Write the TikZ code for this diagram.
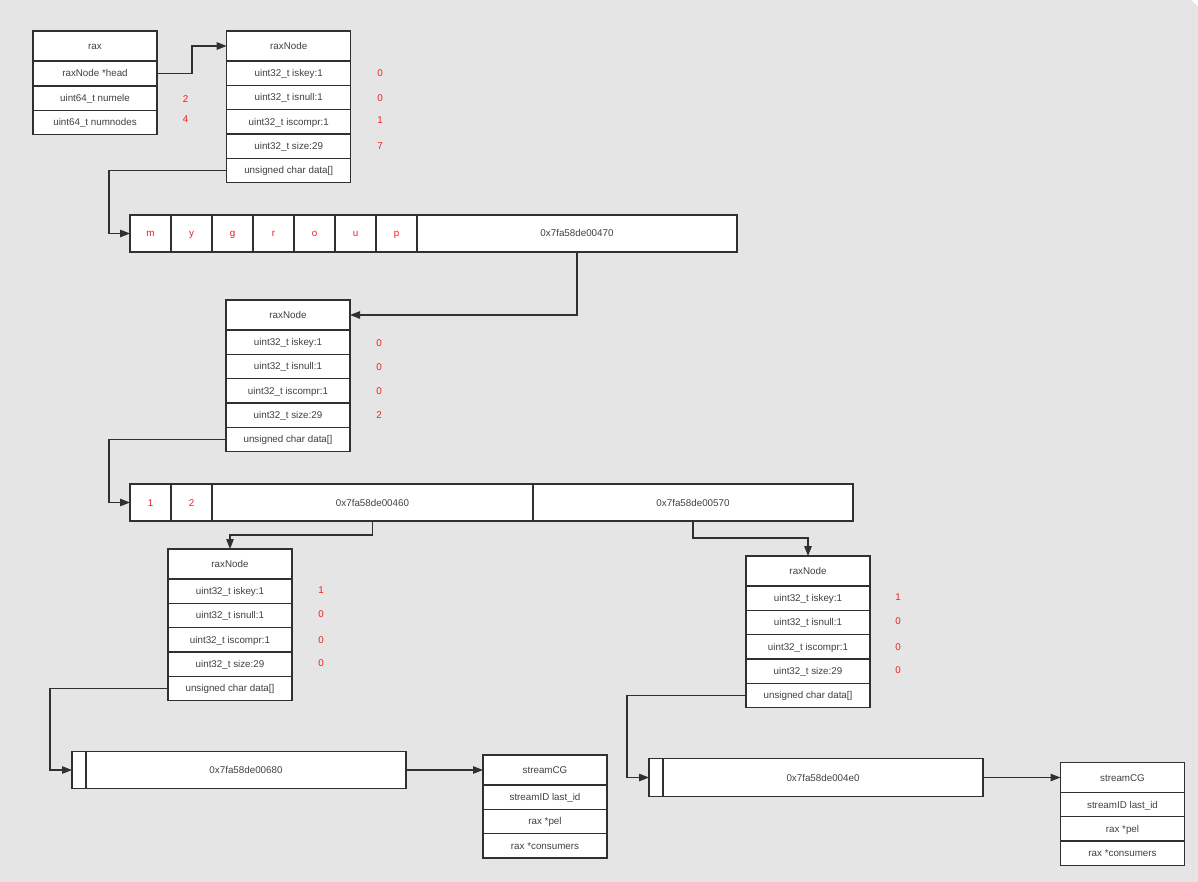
\documentclass[tikz,border=0pt]{standalone}
\usepackage{fontspec}
\setmainfont{Liberation Sans}
\usetikzlibrary{arrows.meta, positioning}
\definecolor{bggray}{HTML}{E5E5E5}
\definecolor{linegray}{HTML}{303030}
\definecolor{textgray}{HTML}{404040}
\definecolor{numred}{HTML}{F01E1E}

\begin{document}
\begin{tikzpicture}[
    x=1pt, y=-1pt,
    cell/.style={
        draw=linegray,
        fill=white,
        line width=1.3pt,
        inner sep=0pt,
        outer sep=0pt,
        minimum width=124pt,
        minimum height=24.3pt,   % ordinary field row
        text height=8pt,
        text depth=1pt,
        text=textgray,
        font=\fontsize{9.8}{11}\selectfont
    },
    headcell/.style={cell, minimum height=30pt},
    bytecell/.style={cell, minimum width=41pt, minimum height=37pt, text=numred},
    ptrcell/.style={cell, minimum width=320pt, minimum height=37pt},
    tagcell/.style={cell, minimum width=14pt, minimum height=37.5pt},
    val/.style={text=numred, font=\fontsize{9.8}{11}\selectfont},
    link/.style={draw=linegray, line width=1.3pt, -{Triangle[length=10pt,width=7.5pt]}}
]
    \useasboundingbox (0,0) rectangle (1198,882);
    \fill[white] (0,0) rectangle (1198,882);
    \fill[bggray] (0,0) -- (1191,0) -- (1198,7) -- (1198,882) -- (0,882) -- cycle;

    % rax
    \node[headcell] (rax) at (95,46) {rax};
    \node[cell, below=0pt of rax, minimum height=25pt] (raxhead) {raxNode *head};
    \node[cell, below=0pt of raxhead] (raxnumele) {uint64\_t numele};
    \node[cell, below=0pt of raxnumele] (raxnumnodes) {uint64\_t numnodes};
    \node[val] (v0a) at (185.5,99) {2};
    \node[val] (v0b) at (185.5,119) {4};

    % raxNode 1 (compressed "mygroup")
    \node[headcell] (n1) at (288.7,46) {raxNode};
    \node[cell, below=0pt of n1] (n1key) {uint32\_t iskey:1};
    \node[cell, below=0pt of n1key] (n1null) {uint32\_t isnull:1};
    \node[cell, below=0pt of n1null] (n1compr) {uint32\_t iscompr:1};
    \node[cell, below=0pt of n1compr] (n1size) {uint32\_t size:29};
    \node[cell, below=0pt of n1size] (n1data) {unsigned char data[]};
    \node[val] (v1a) at (380,73) {0};
    \node[val] (v1b) at (380,98) {0};
    \node[val] (v1c) at (380,120) {1};
    \node[val] (v1d) at (380,146) {7};

    % data of raxNode 1
    \node[bytecell] (c1) at (150.5,233.5) {m};
    \node[bytecell, right=0pt of c1] (c2) {y};
    \node[bytecell, right=0pt of c2] (c3) {g};
    \node[bytecell, right=0pt of c3] (c4) {r};
    \node[bytecell, right=0pt of c4] (c5) {o};
    \node[bytecell, right=0pt of c5] (c6) {u};
    \node[bytecell, right=0pt of c6] (c7) {p};
    \node[ptrcell, right=0pt of c7] (p470) {0x7fa58de00470};

    % raxNode 2
    \node[headcell] (n2) at (288,315) {raxNode};
    \node[cell, below=0pt of n2] (n2key) {uint32\_t iskey:1};
    \node[cell, below=0pt of n2key] (n2null) {uint32\_t isnull:1};
    \node[cell, below=0pt of n2null] (n2compr) {uint32\_t iscompr:1};
    \node[cell, below=0pt of n2compr] (n2size) {uint32\_t size:29};
    \node[cell, below=0pt of n2size] (n2data) {unsigned char data[]};
    \node[val] (v2a) at (379,343) {0};
    \node[val] (v2b) at (379,367) {0};
    \node[val] (v2c) at (379,391) {0};
    \node[val] (v2d) at (379,415) {2};

    % data of raxNode 2
    \node[bytecell] (d1) at (150.5,502.5) {1};
    \node[bytecell, right=0pt of d1] (d2) {2};
    \node[ptrcell, right=0pt of d2, minimum width=321pt] (p460) {0x7fa58de00460};
    \node[ptrcell, right=0pt of p460] (p570) {0x7fa58de00570};

    % raxNode 3 (key "mygroup1")
    \node[headcell] (n3) at (230,564) {raxNode};
    \node[cell, below=0pt of n3] (n3key) {uint32\_t iskey:1};
    \node[cell, below=0pt of n3key] (n3null) {uint32\_t isnull:1};
    \node[cell, below=0pt of n3null] (n3compr) {uint32\_t iscompr:1};
    \node[cell, below=0pt of n3compr] (n3size) {uint32\_t size:29};
    \node[cell, below=0pt of n3size] (n3data) {unsigned char data[]};
    \node[val] (v3a) at (321,590) {1};
    \node[val] (v3b) at (321,614) {0};
    \node[val] (v3c) at (321,640) {0};
    \node[val] (v3d) at (321,663) {0};

    % raxNode 4 (key "mygroup2")
    \node[headcell] (n4) at (808,571) {raxNode};
    \node[cell, below=0pt of n4] (n4key) {uint32\_t iskey:1};
    \node[cell, below=0pt of n4key] (n4null) {uint32\_t isnull:1};
    \node[cell, below=0pt of n4null] (n4compr) {uint32\_t iscompr:1};
    \node[cell, below=0pt of n4compr] (n4size) {uint32\_t size:29};
    \node[cell, below=0pt of n4size] (n4data) {unsigned char data[]};
    \node[val] (v4a) at (898,597) {1};
    \node[val] (v4b) at (898,621) {0};
    \node[val] (v4c) at (898,647) {0};
    \node[val] (v4d) at (898,670) {0};

    % values
    \node[tagcell] (e1) at (79,770) {};
    \node[ptrcell, right=0pt of e1, minimum height=37.5pt] (e2) {0x7fa58de00680};
    \node[tagcell] (f1) at (656,777.5) {};
    \node[ptrcell, right=0pt of f1, minimum height=37.5pt] (f2) {0x7fa58de004e0};

    % streamCG 1
    \node[headcell] (cg1) at (545,770) {streamCG};
    \node[cell, below=0pt of cg1] (cg1id) {streamID last\_id};
    \node[cell, below=0pt of cg1id] (cg1pel) {rax *pel};
    \node[cell, below=0pt of cg1pel] (cg1cons) {rax *consumers};

    % streamCG 2
    \node[headcell] (cg2) at (1122.5,777.5) {streamCG};
    \node[cell, below=0pt of cg2] (cg2id) {streamID last\_id};
    \node[cell, below=0pt of cg2id] (cg2pel) {rax *pel};
    \node[cell, below=0pt of cg2pel] (cg2cons) {rax *consumers};

    % pointers
    \draw[link] (raxhead.east) -- ++(35,0) |- (n1.west);
    \draw[link] (n1data.west) -| ([xshift=-21pt]c1.west) -- (c1.west);
    \draw[link] (p470.south) |- (n2.east);
    \draw[link] (n2data.west) -| ([xshift=-21pt]d1.west) -- (d1.west);
    \draw[link] (p460.south) -- ++(0,14) -| (n3.north);
    \draw[link] (p570.south) -- ++(0,17) -| (n4.north);
    \draw[link] (n3data.west) -| ([xshift=-22pt]e1.west) -- (e1.west);
    \draw[link] (e2.east) -- (cg1.west);
    \draw[link] (n4data.west) -| ([xshift=-22pt]f1.west) -- (f1.west);
    \draw[link] (f2.east) -- (cg2.west);
\end{tikzpicture}
\end{document}
